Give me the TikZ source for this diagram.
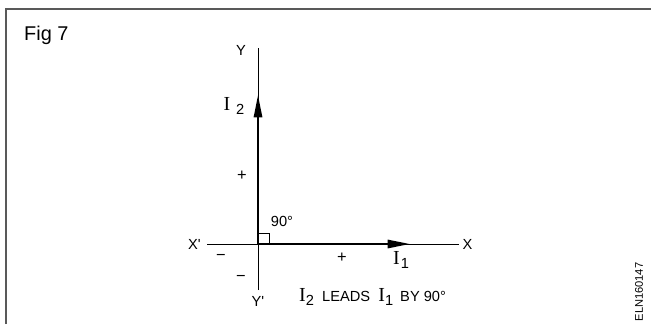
\documentclass[tikz,border=0pt]{standalone}
\usepackage{fontspec}
\setmainfont{Liberation Sans}
\newfontfamily\curfont{Liberation Serif}
\usetikzlibrary{arrows.meta, positioning}
\newcommand{\Icur}[2][0pt]{{\fontsize{17}{17}\selectfont\curfont I}\hspace{#1}\raisebox{-0.5ex}{#2}}

\begin{document}
\begin{tikzpicture}[x=0.3mm, y=-0.3mm,
  axis/.style={line width=0.7pt},
  phasor/.style={line width=1.8pt, -{Triangle[length=19pt,width=7pt]}},
  lbl/.style={font=\fontsize{12.5}{14}\selectfont, inner sep=0pt},
  sign/.style={font=\fontsize{14}{14}\selectfont, inner sep=0pt}]
  \useasboundingbox (0,0) rectangle (651,324);
  % frame
  \draw[line width=1.2pt, black!65] (6,324) -- (6,9) -- (651,9);
  \node[font=\fontsize{17}{20}\selectfont, anchor=west, inner sep=0pt] (fig) at (24,35) {Fig 7};
  % axes
  \coordinate (O) at (258,244);
  \coordinate (xl) at (207,244);
  \coordinate (xr) at (459,244);
  \coordinate (yt) at (258,48);
  \coordinate (yb) at (258,290);
  \draw[axis] (xl) -- (xr);
  \draw[axis] (yb) -- (yt);
  \node[lbl, right=1mm of xr] (X) {X};
  \node[lbl, left=1.8mm of xl] (Xp) {X\textquotesingle};
  \node[lbl] (Y) at (241,50) {Y};
  \node[lbl, below=2mm of yb] (Yp) {Y\textquotesingle};
  % phasors
  \coordinate (A1) at (410,244);
  \coordinate (A2) at (258,95);
  \draw[phasor] (O) -- (A1);
  \draw[phasor] (O) -- (A2);
  \draw[line width=0.6pt] (O) rectangle ++(11,-11);
  \node[lbl] (ang) at (282,221) {90°};
  \node[lbl] (I2) at (234,106) {\Icur[5pt]{2}};
  \node[lbl] (I1) at (401,260) {\Icur[1pt]{1}};
  % signs
  \node[sign] (py) at (242,176) {+};
  \node[sign] (px) at (342,258) {+};
  \node[sign] (mx) at (221,257) {−};
  \node[sign] (my) at (241,278) {−};
  \node[lbl, anchor=west] (lead) at (299,297)
    {\Icur{2}\hspace{7pt}LEADS\hspace{7pt}\Icur{1}\hspace{6pt}BY 90°};
  \node[font=\fontsize{9.5}{11}\selectfont, rotate=90, inner sep=0pt] (code) at (639,292) {ELN160147};
\end{tikzpicture}
\end{document}
